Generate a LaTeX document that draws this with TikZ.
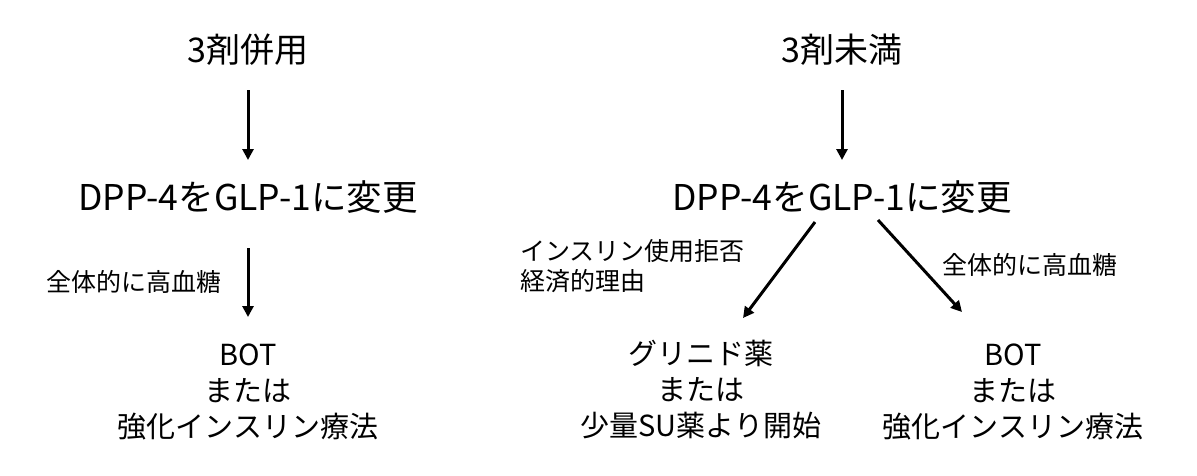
\documentclass[tikz,border=0pt]{standalone}
\usepackage{fontspec}
\setmainfont{Noto Sans CJK JP}
\usetikzlibrary{arrows.meta}
\tikzset{
  title/.style={inner sep=0pt, font=\fontsize{34}{40}\selectfont},
  dpp/.style={inner sep=0pt, font=\fontsize{35.5}{40}\selectfont},
  result/.style={inner sep=0pt, align=center, font=\fontsize{29}{36}\selectfont},
  lbl/.style={inner sep=0pt, font=\fontsize{25}{30}\selectfont},
  arr/.style={line width=3pt, -{Triangle[length=11pt,width=11pt]}}
}
\begin{document}
\begin{tikzpicture}[x=1pt,y=-1pt]
\useasboundingbox (0,0) rectangle (1197,475);
% left column
\node[title] (t1) at (248,50) {3剤併用};
\node[dpp] (d1) at (248,197) {DPP-4をGLP-1に変更};
\node[result] (r1) at (248,392) {BOT\\または\\強化インスリン療法};
\node[lbl] (l1) at (134,282) {全体的に高血糖};
\draw[arr, shorten <=40pt, shorten >=37pt] (t1.center) -- (d1.center);
\draw[arr, shorten <=51pt, shorten >=75pt] (d1.center) -- (r1.center);
% right column
\node[title] (t2) at (842,50) {3剤未満};
\node[dpp] (d2) at (842,197) {DPP-4をGLP-1に変更};
\node[result] (r2) at (701,390) {グリニド薬\\または\\少量SU薬より開始};
\node[result] (r3) at (1013,392) {BOT\\または\\強化インスリン療法};
\node[lbl, align=left, anchor=west] (l2) at (520,266) {インスリン使用拒否\\経済的理由};
\node[lbl] (l3) at (1030,265) {全体的に高血糖};
\draw[arr, shorten <=40pt, shorten >=37pt] (t2.center) -- (d2.center);
\coordinate (a1) at (815,222);
\coordinate (a2) at (743,318);
\coordinate (b1) at (878,220);
\coordinate (b2) at (962,312);
\draw[arr] (a1) -- (a2);
\draw[arr] (b1) -- (b2);
\end{tikzpicture}
\end{document}
